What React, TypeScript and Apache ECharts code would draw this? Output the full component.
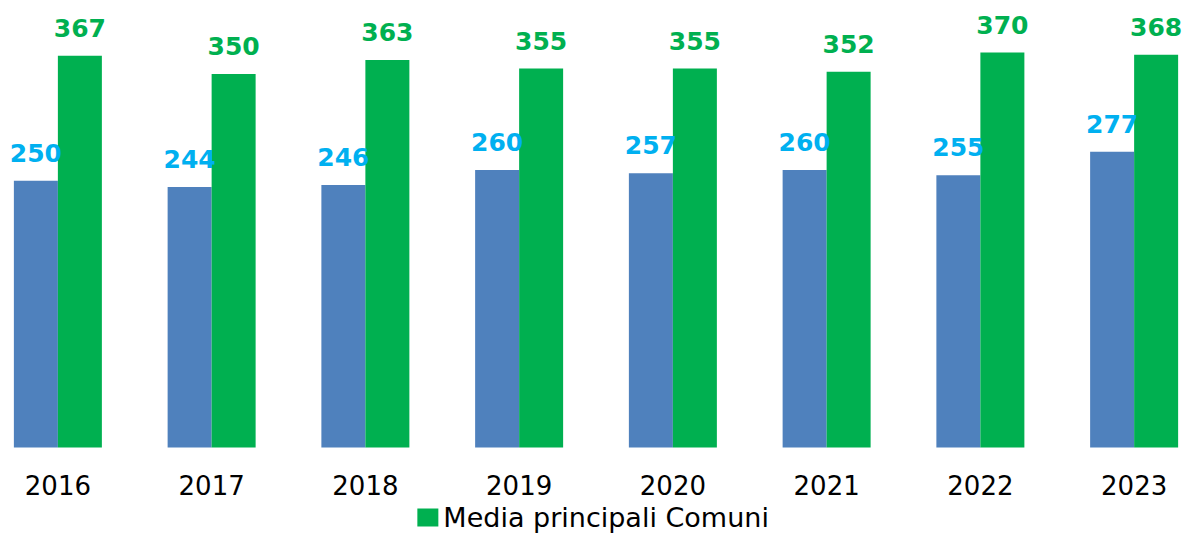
import React, { useEffect, useRef } from "react";
import * as echarts from "echarts";

const years = ["2016", "2017", "2018", "2019", "2020", "2021", "2022", "2023"];
const comuneValues = [250, 244, 246, 260, 257, 260, 255, 277];
const mediaValues = [367, 350, 363, 355, 355, 352, 370, 368];
const comuneName = "Comune";
const mediaName = "Media principali Comuni";

const OFFSET = 19.35;
const WIDTH = 1229.7;

export default function App() {
  const ref = useRef<HTMLDivElement>(null);
  useEffect(() => {
    if (!ref.current) return;
    const chart = echarts.init(ref.current, undefined, { renderer: "svg" });
    const font = "DejaVu Sans";
    chart.setOption({
      animation: false,
      backgroundColor: "#ffffff",
      grid: { left: 0, right: 0, top: 20.5, bottom: 85.5 },
      legend: {
        data: [mediaName],
        left: 412 + OFFSET,
        top: 499,
        itemWidth: 21,
        itemHeight: 18,
        itemGap: 10,
        textStyle: { fontFamily: font, fontSize: 27, color: "#000000" },
        icon: "rect",
      },
      xAxis: {
        type: "category",
        data: years,
        axisLine: { show: false },
        axisTick: { show: false },
        axisLabel: {
          fontFamily: font,
          fontSize: 26,
          color: "#000000",
          margin: 25,
        },
      },
      yAxis: {
        type: "value",
        min: 0,
        max: 400,
        show: false,
        splitLine: { show: false },
      },
      series: [
        {
          name: comuneName,
          type: "bar",
          data: comuneValues,
          barWidth: 44,
          barGap: "0%",
          itemStyle: { color: "#4F81BD" },
          label: {
            show: true,
            position: "top",
            distance: 15,
            fontFamily: font,
            fontSize: 25,
            fontWeight: "bold",
            color: "#00B0F0",
          },
        },
        {
          name: mediaName,
          type: "bar",
          data: mediaValues,
          barWidth: 44,
          barGap: "0%",
          itemStyle: { color: "#00B050" },
          label: {
            show: true,
            position: "top",
            distance: 15,
            fontFamily: font,
            fontSize: 25,
            fontWeight: "bold",
            color: "#00B050",
          },
        },
      ],
    });
    return () => chart.dispose();
  }, []);
  return (
    <div
      ref={ref}
      style={{ position: "fixed", left: -OFFSET, top: 0, width: WIDTH, height: 533 }}
    />
  );
}
